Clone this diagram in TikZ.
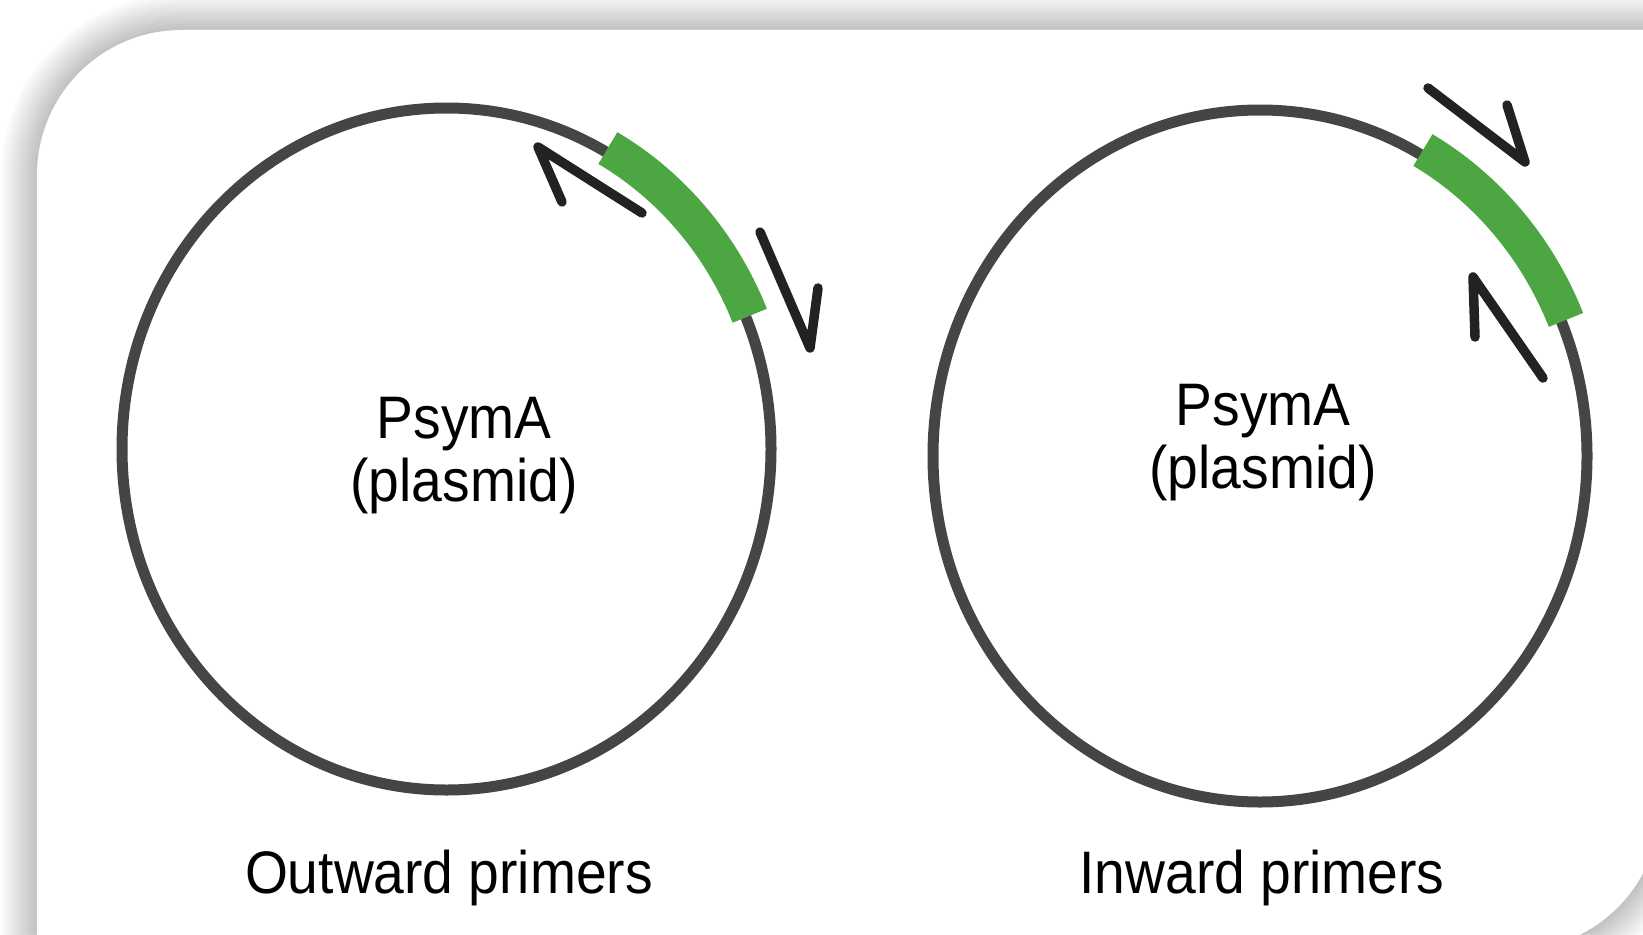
\documentclass[tikz,border=0pt]{standalone}
\usepackage{fontspec}
\setmainfont{Liberation Sans}[FakeStretch=0.92]
\definecolor{ring}{HTML}{454545}
\definecolor{gene}{HTML}{4CA743}
\definecolor{primer}{HTML}{222222}
\tikzset{
  ringline/.style={draw=ring, line width=11pt},
  geneband/.style={draw=gene, line width=37pt},
  primerline/.style={draw=primer, line width=9.5pt, line cap=round, line join=round},
  lbl/.style={font=\fontsize{60}{60}\selectfont, text=black, inner sep=0pt, anchor=base},
}
\newcommand\panelpath[1]{%
  ({37-#1},1300) -- ({37-#1},{30-#1}) -- (2200,{30-#1}) -- (2200,600) -- ({1660+#1},600) -- ({1660+#1},{950+#1}) -- (600,{950+#1}) -- (600,1300) -- cycle}
\begin{document}
\begin{tikzpicture}[x=1pt,y=-1pt]
\useasboundingbox (0,0) rectangle (1643,934);
\clip (0,0) rectangle (1643,934);
\fill[white] (0,0) rectangle (1643,934);
% shadow of the panel
\foreach \i in {1,...,12} {
  \pgfmathsetmacro\rr{145+3*\i}
  \pgfmathsetmacro\dd{3*\i}
  \fill[black, opacity=0.018, rounded corners=\rr pt] \panelpath{\dd};
}
\fill[white, rounded corners=145pt] \panelpath{0};

% left plasmid
\draw[ringline] (446.5,449) ellipse [x radius=324.5, y radius=341];
\draw[geneband] plot[domain=22.7:60.6, samples=50] ({446.5+324.5*1.013*cos(\x)}, {449-341*1.013*sin(\x)});
\coordinate (a1tail) at (642,213);
\coordinate (a1tip) at (538,147);
\coordinate (a1barb) at (562,202);
\coordinate (a2tail) at (760,232);
\coordinate (a2tip) at (810,348);
\coordinate (a2barb) at (818,288);
\draw[primerline] (a1tail) -- (a1tip) -- (a1barb);
\draw[primerline] (a2tail) -- (a2tip) -- (a2barb);
\node[lbl] (l1a) at (464,438) {PsymA};
\node[lbl] (l1b) at (464,501) {(plasmid)};
\node[lbl] (cap1) at (449,893) {Outward primers};

% right plasmid
\draw[ringline] (1260,456) ellipse [x radius=327, y radius=346];
\draw[geneband] plot[domain=22.8:60.6, samples=50] ({1260+327*1.015*cos(\x)}, {456-346*1.015*sin(\x)});
\coordinate (b1tail) at (1428,88);
\coordinate (b1tip) at (1525,162);
\coordinate (b1barb) at (1507,105);
\coordinate (b2tail) at (1543,378);
\coordinate (b2tip) at (1473,277);
\coordinate (b2barb) at (1475,337);
\draw[primerline] (b1tail) -- (b1tip) -- (b1barb);
\draw[primerline] (b2tail) -- (b2tip) -- (b2barb);
\node[lbl] (r1a) at (1263,425) {PsymA};
\node[lbl] (r1b) at (1263,488) {(plasmid)};
\node[lbl] (cap2) at (1262,893) {Inward primers};
\end{tikzpicture}
\end{document}
